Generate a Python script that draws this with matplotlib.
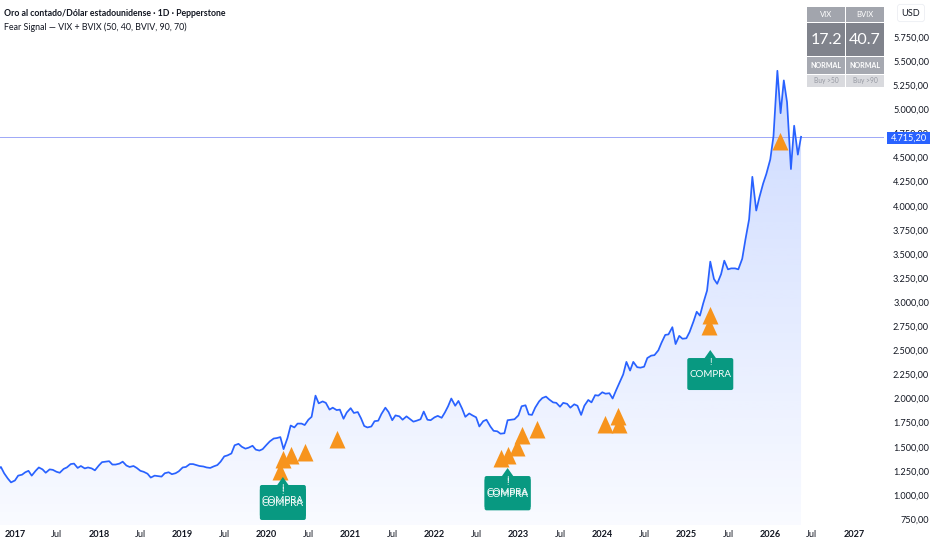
import numpy as np
import pandas as pd
import matplotlib
matplotlib.use('Agg')
import matplotlib.pyplot as plt
import matplotlib.dates as mdates
import matplotlib.patches as mpatches
import matplotlib.transforms as mtransforms
from matplotlib.colors import to_rgb

plt.rcParams['font.family'] = ['Lato', 'DejaVu Sans']

# precio del oro, lecturas cada medio mes (1 y 15)
dates = pd.date_range('2016-10-15', '2026-05-15', freq='SMS')
prices = (
    [1255, 1290, 1225, 1170, 1130] +
    [1150, 1200, 1210, 1235, 1250, 1200, 1250, 1285, 1265, 1230, 1265, 1260,
     1240, 1230, 1270, 1285, 1320, 1325, 1280, 1300, 1275, 1285, 1275, 1255] +
    [1305, 1340, 1345, 1350, 1315, 1315, 1325, 1345, 1305, 1290, 1300, 1280,
     1250, 1240, 1220, 1180, 1200, 1195, 1190, 1225, 1235, 1215, 1225, 1245] +
    [1285, 1290, 1320, 1320, 1310, 1300, 1295, 1285, 1280, 1295, 1310, 1345,
     1400, 1410, 1430, 1515, 1530, 1500, 1480, 1490, 1510, 1470, 1460, 1475] +
    [1520, 1555, 1585, 1590, 1600, 1475, 1590, 1720, 1700, 1740, 1740, 1725,
     1780, 1810, 2030, 1950, 1970, 1955, 1885, 1905, 1880, 1885, 1790, 1855] +
    [1900, 1850, 1860, 1795, 1715, 1700, 1710, 1765, 1770, 1840, 1905, 1860,
     1775, 1825, 1815, 1780, 1815, 1790, 1760, 1770, 1785, 1865, 1780, 1775] +
    [1805, 1820, 1800, 1855, 1920, 2000, 1925, 1975, 1895, 1810, 1845, 1825,
     1805, 1710, 1765, 1780, 1710, 1665, 1660, 1635, 1640, 1775, 1780, 1785] +
    [1825, 1920, 1930, 1835, 1830, 1905, 1970, 2005, 2020, 1990, 1960, 1955,
     1915, 1955, 1945, 1905, 1940, 1925, 1830, 1925, 1985, 1960, 2035, 2030] +
    [2065, 2050, 2055, 2000, 2085, 2160, 2250, 2380, 2290, 2380, 2325, 2320,
     2330, 2420, 2445, 2450, 2500, 2580, 2660, 2665, 2740, 2565, 2650, 2620] +
    [2625, 2690, 2800, 2900, 2860, 2985, 3120, 3420, 3240, 3190, 3290, 3430,
     3340, 3350, 3350, 3340, 3450, 3650, 3860, 4300, 3950, 4090, 4230, 4330] +
    [4480, 4720, 5400, 4960, 5300, 5075, 4380, 4830, 4530, 4715]
)
assert len(prices) == len(dates)
last_price = 4715.20

# señales de miedo (triángulos naranjas)
sig_dates = pd.to_datetime([
    '2020-02-27', '2020-03-12', '2020-04-16', '2020-06-16', '2020-11-02',
    '2022-10-16', '2022-11-15', '2022-12-24', '2023-01-16', '2023-03-25',
    '2024-01-12', '2024-03-09', '2024-03-12', '2025-04-10', '2025-04-15',
    '2026-02-13'])
sig_vals = [1238, 1362, 1404, 1435, 1570,
            1372, 1404, 1487, 1611, 1673,
            1725, 1808, 1725, 2742, 2856,
            4661]

# etiquetas COMPRA
lab_dates = pd.to_datetime(['2020-03-12', '2020-03-12', '2022-11-15', '2022-11-15', '2025-04-15'])
lab_vals = [1186, 1155, 1279, 1255, 2503]

# tabla VIX / BVIX
tbl_names = ['VIX', 'BVIX']
tbl_values = ['17.2', '40.7']
tbl_state = ['NORMAL', 'NORMAL']
tbl_rule = ['Buy >50', 'Buy >90']

W, H = 932, 550
fig = plt.figure(figsize=(W / 100, H / 100), dpi=100)
ax = fig.add_axes([0, 25 / H, 884 / W, 525 / H])
for s in ax.spines.values():
    s.set_visible(False)

x0 = pd.Timestamp('2016-10-28')
x1 = pd.Timestamp('2027-05-11')
y0, y1 = 688, 6134

# relleno con degradado bajo la línea
poly = ax.fill_between(dates, prices, y0, color='none', lw=0)
grad = np.zeros((256, 1, 4))
grad[..., :3] = to_rgb('#2962FF')
grad[..., 3] = np.linspace(0.27, 0.03, 256)[:, None]
im = ax.imshow(grad, extent=[mdates.date2num(x0), mdates.date2num(x1), y0, y1],
               aspect='auto', origin='upper', zorder=1, interpolation='bilinear')
im.set_clip_path(poly.get_paths()[0], transform=ax.transData)

ax.plot(dates, prices, color='#2962FF', lw=1.25, zorder=3)
ax.axhline(last_price, color='#9da8f7', lw=0.7, zorder=2)

tri = [(0, 1.2), (-1, -1), (1, -1)]
ax.plot(sig_dates, sig_vals, ls='none', marker=tri, ms=13.8, color='#F7941D',
        mew=0, zorder=4)


def buy_label(d, v):
    tr = (mtransforms.Affine2D().scale(1 / fig.dpi) + fig.dpi_scale_trans +
          mtransforms.ScaledTranslation(mdates.date2num(d), v, ax.transData))
    ax.add_patch(mpatches.Polygon([(-6, -8.5), (0, 0), (6, -8.5)], closed=True,
                                  color='#089981', lw=0, transform=tr, zorder=5))
    ax.add_patch(mpatches.FancyBboxPatch((-23, -40), 46, 32,
                                         boxstyle='round,pad=0,rounding_size=2',
                                         color='#089981', lw=0, transform=tr, zorder=5))
    ax.text(0, -12, '!', transform=tr, ha='center', va='center', color='white',
            fontsize=6.5, zorder=6)
    ax.text(0, -24, 'COMPRA', transform=tr, ha='center', va='center', color='white',
            fontsize=7, zorder=6)


for d, v in zip(lab_dates, lab_vals):
    buy_label(d, v)

ax.set_xlim(x0, x1)
ax.set_ylim(y0, y1)


def eu(v):
    return f'{v:,.2f}'.replace(',', 'X').replace('.', ',').replace('X', '.')


yt = np.arange(750, 5751, 250)
ax.set_yticks(yt)
ax.set_yticklabels([eu(v) for v in yt])
ax.yaxis.tick_right()
ax.tick_params(axis='y', length=0, pad=32.4, labelsize=6.6, labelcolor='#131722')
for lab in ax.get_yticklabels():
    lab.set_ha('right')

xt, xl = [], []
for yr in range(2017, 2028):
    xt.append(pd.Timestamp(f'{yr}-01-01'))
    xl.append(str(yr))
    if yr < 2027:
        xt.append(pd.Timestamp(f'{yr}-07-01'))
        xl.append('Jul')
ax.set_xticks(xt)
ax.set_xticklabels(xl)
ax.tick_params(axis='x', length=0, pad=3.5, labelsize=6.6, labelcolor='#131722')
for lab in ax.get_xticklabels():
    if lab.get_text() != 'Jul':
        lab.set_fontweight('bold')


def fx(x):
    return x / W


def fy(y):
    return 1 - y / H


def px_rect(xa, ya, xb, yb, color, z=5):
    fig.add_artist(mpatches.Rectangle((fx(xa), fy(yb)), (xb - xa) / W, (yb - ya) / H,
                                      transform=fig.transFigure, color=color, lw=0, zorder=z))


# etiqueta del último precio
px_rect(887, 132, 930, 144, '#2962FF', z=6)
fig.text(fx(927), fy(138), eu(last_price), ha='right', va='center', color='white',
         fontsize=6.6, zorder=7)

# USD
fig.text(fx(911), fy(13), 'USD', ha='center', va='center', color='#131722', fontsize=6.6,
         bbox=dict(boxstyle='round,pad=0.45,rounding_size=0.3', fc='white', ec='#eceef3', lw=0.6))

# títulos
fig.text(fx(4), fy(13), 'Oro al contado/Dólar estadounidense · 1D · Pepperstone',
         ha='left', va='center', color='#131722', fontsize=6.3, fontweight='bold')
fig.text(fx(4), fy(27), 'Fear Signal — VIX + BVIX (50, 40, BVIV, 90, 70)',
         ha='left', va='center', color='#131722', fontsize=6.4)

# tabla
cols = [(807, 845), (846, 884)]
rows = [(7, 22, '#a2a5ad'), (23, 56, '#80838c'), (57, 74, '#a6a9b1'), (75, 87, '#d9dade')]
for i, (xa, xb) in enumerate(cols):
    for ya, yb, c in rows:
        px_rect(xa, ya, xb, yb, c)
    xc = fx((xa + xb) / 2)
    fig.text(xc, fy(14.5), tbl_names[i], ha='center', va='center', color='white', fontsize=5.5, zorder=7)
    fig.text(xc, fy(39.5), tbl_values[i], ha='center', va='center', color='white', fontsize=11.5, zorder=7)
    fig.text(xc, fy(65.5), tbl_state[i], ha='center', va='center', color='white', fontsize=5,
             fontweight='bold', zorder=7)
    fig.text(xc, fy(81), tbl_rule[i], ha='center', va='center', color='#9598a1', fontsize=4.8, zorder=7)

fig.savefig('out.png', dpi=100)
